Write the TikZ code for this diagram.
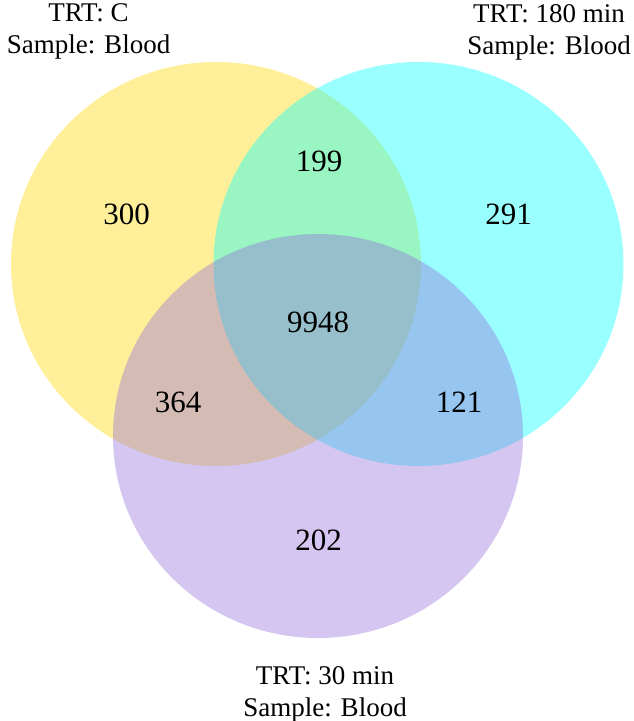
\documentclass[tikz,border=0pt]{standalone}
\usepackage{fontspec}
\setmainfont{Liberation Serif}

\definecolor{vgold}{RGB}{255,215,0}
\definecolor{vcyan}{RGB}{0,255,255}
\definecolor{vpurple}{RGB}{147,112,219}

\tikzset{
  setfill/.style={fill=#1, fill opacity=0.4},
  count/.style={inner sep=0pt, font=\fontsize{31}{36}\selectfont},
  setname/.style={inner sep=0pt, anchor=north, align=center, font=\fontsize{27}{32}\selectfont}
}

\begin{document}
\begin{tikzpicture}[x=1pt,y=-1pt]
        \useasboundingbox (0,0) rectangle (633,721);

        % Sets
        \fill[setfill=vgold] (216,264) ellipse [x radius=205pt, y radius=202pt];
        \fill[setfill=vcyan] (418.5,264) ellipse [x radius=205pt, y radius=202pt];
        \fill[setfill=vpurple] (318,436) ellipse [x radius=205pt, y radius=202pt];

        % Set names
        \node[setname] (nameC) at (88.5,3.5) {TRT: C\\Sample: Blood};
        \node[setname] (name180) at (549,4) {TRT: 180 min\\Sample: Blood};
        \node[setname] (name30) at (325,666) {TRT: 30 min\\Sample: Blood};

        % Counts
        \node[count] (onlyC) at (126.5,214) {300};
        \node[count] (bothC180) at (319,161) {199};
        \node[count] (only180) at (508.5,214) {291};
        \node[count] (all) at (318,322) {9948};
        \node[count] (bothC30) at (178,402) {364};
        \node[count] (both30180) at (459,402) {121};
        \node[count] (only30) at (318.5,540) {202};

\end{tikzpicture}
\end{document}
